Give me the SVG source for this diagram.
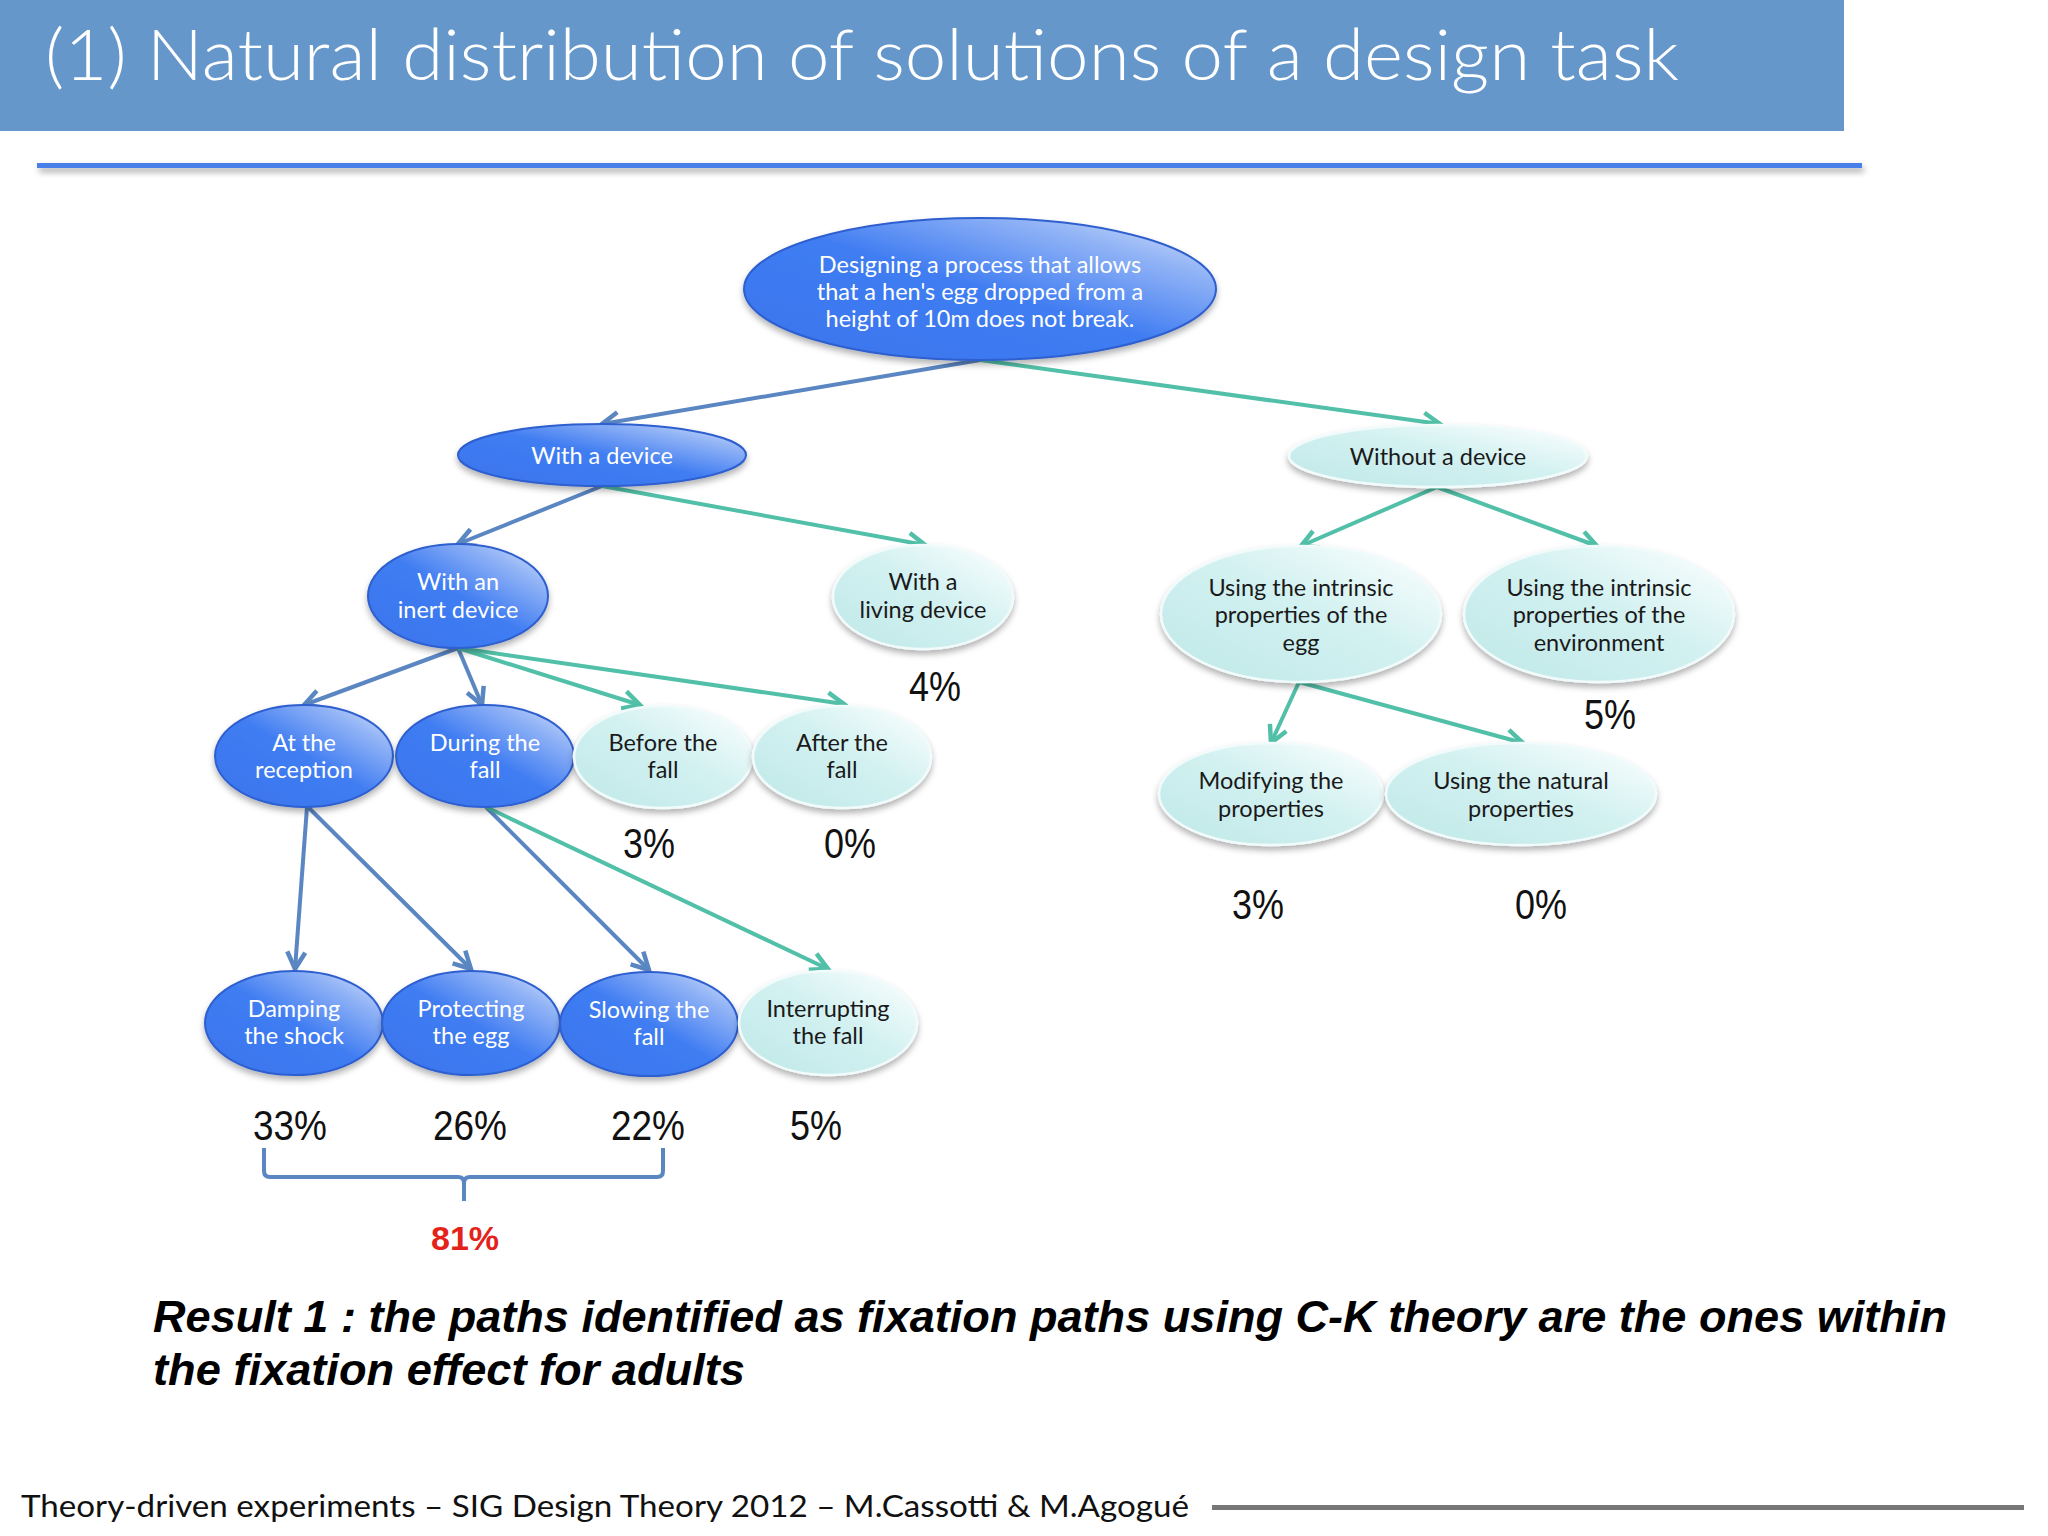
<svg xmlns="http://www.w3.org/2000/svg" width="2048" height="1536" viewBox="0 0 2048 1536">
<defs>
<linearGradient id="gBlue" x1="0" y1="1" x2="1" y2="0">
<stop offset="0" stop-color="#3a75ed"/>
<stop offset="0.5" stop-color="#3f7cf2"/>
<stop offset="0.8" stop-color="#95b6f6"/>
<stop offset="1" stop-color="#dfe8fb"/>
</linearGradient>
<linearGradient id="gTeal" x1="0" y1="1" x2="1" y2="0">
<stop offset="0" stop-color="#bfe8e8"/>
<stop offset="0.55" stop-color="#d3f1f1"/>
<stop offset="1" stop-color="#ffffff"/>
</linearGradient>
<filter id="sh" x="-20%" y="-20%" width="140%" height="150%">
<feDropShadow dx="0" dy="4" stdDeviation="3" flood-color="#000" flood-opacity="0.3"/>
</filter>
<filter id="lsh" x="-5%" y="-100%" width="110%" height="400%">
<feDropShadow dx="2" dy="4" stdDeviation="3" flood-color="#000" flood-opacity="0.35"/>
</filter>
<marker id="aB" markerUnits="userSpaceOnUse" markerWidth="26" markerHeight="26" viewBox="0 0 26 26" refX="22" refY="13" orient="auto">
<path d="M5,4 L22,13 L5,22" fill="none" stroke="#5a86c2" stroke-width="4.5"/>
</marker>
<marker id="aT" markerUnits="userSpaceOnUse" markerWidth="26" markerHeight="26" viewBox="0 0 26 26" refX="22" refY="13" orient="auto">
<path d="M5,4 L22,13 L5,22" fill="none" stroke="#52c0a8" stroke-width="4.5"/>
</marker>
</defs>
<style>
.nb ellipse{fill:url(#gBlue);stroke:#2f5fcf;stroke-width:2;filter:url(#sh)}
.nt ellipse{fill:url(#gTeal);stroke:#f2fbfb;stroke-width:2.5;filter:url(#sh)}
.nb text{fill:#ffffff;font-family:Lato,"Open Sans",sans-serif;font-size:23.5px;text-anchor:middle}
.nt text{fill:#1a1a1a;font-family:Lato,"Open Sans",sans-serif;font-size:23.5px;text-anchor:middle}
.cb{stroke:#5a86c2;stroke-width:4;fill:none;marker-end:url(#aB)}
.ct{stroke:#52c0a8;stroke-width:4;fill:none;marker-end:url(#aT)}
.pct{font-family:"Liberation Sans",Arial,sans-serif;font-size:42px;fill:#111;text-anchor:middle}
</style>
<rect width="2048" height="1536" fill="#ffffff"/>
<!-- header -->
<rect x="0" y="0" width="1844" height="131" fill="#6597cb"/>
<text x="45" y="80" font-family="Lato,'Open Sans',sans-serif" font-weight="300" font-size="70" fill="#ffffff" textLength="1634" lengthAdjust="spacingAndGlyphs">(1) Natural distribution of solutions of a design task</text>
<rect x="37" y="163" width="1825" height="5" fill="#4a7fe8" filter="url(#lsh)"/>

<!-- connectors -->
<g id="connectors">
<line class="cb" x1="980" y1="360" x2="602" y2="424"/>
<line class="ct" x1="980" y1="360" x2="1440" y2="424"/>
<line class="cb" x1="602" y1="486" x2="458" y2="544"/>
<line class="ct" x1="602" y1="486" x2="925" y2="545"/>
<line class="cb" x1="458" y1="648" x2="304" y2="705"/>
<line class="cb" x1="458" y1="648" x2="482" y2="705"/>
<line class="ct" x1="458" y1="648" x2="640" y2="705"/>
<line class="ct" x1="458" y1="648" x2="844" y2="704"/>
<line class="cb" x1="307" y1="807" x2="295" y2="969"/>
<line class="cb" x1="308" y1="807" x2="471" y2="969"/>
<line class="cb" x1="486" y1="807" x2="649" y2="970"/>
<line class="ct" x1="486" y1="807" x2="828" y2="969"/>
<line class="ct" x1="1437" y1="487" x2="1301" y2="546"/>
<line class="ct" x1="1437" y1="487" x2="1597" y2="546"/>
<line class="ct" x1="1299" y1="682" x2="1271" y2="743"/>
<line class="ct" x1="1299" y1="682" x2="1523" y2="743"/>
</g>

<!-- nodes -->
<g id="root" class="nb">
<ellipse cx="980" cy="289" rx="236" ry="71"/>
<text x="980" y="273" font-size="24.5">Designing a process that allows</text>
<text x="980" y="300" font-size="24.5">that a hen's egg dropped from a</text>
<text x="980" y="327" font-size="24.5">height of 10m does not break.</text>
</g>
<g id="with-device" class="nb">
<ellipse cx="602" cy="455" rx="144" ry="31"/>
<text x="602" y="464">With a device</text>
</g>
<g id="without-device" class="nt">
<ellipse cx="1438" cy="456" rx="149" ry="31"/>
<text x="1438" y="465">Without a device</text>
</g>
<g id="inert" class="nb">
<ellipse cx="458" cy="596" rx="90" ry="52"/>
<text x="458" y="590">With an</text>
<text x="458" y="618">inert device</text>
</g>
<g id="living" class="nt">
<ellipse cx="923" cy="597" rx="90" ry="52"/>
<text x="923" y="590">With a</text>
<text x="923" y="618">living device</text>
</g>
<g id="egg" class="nt">
<ellipse cx="1301" cy="614" rx="140" ry="68"/>
<text x="1301" y="596">Using the intrinsic</text>
<text x="1301" y="623">properties of the</text>
<text x="1301" y="651">egg</text>
</g>
<g id="environment" class="nt">
<ellipse cx="1599" cy="614" rx="135" ry="68"/>
<text x="1599" y="596">Using the intrinsic</text>
<text x="1599" y="623">properties of the</text>
<text x="1599" y="651">environment</text>
</g>
<g id="reception" class="nb">
<ellipse cx="304" cy="756" rx="89" ry="51"/>
<text x="304" y="751">At the</text>
<text x="304" y="778">reception</text>
</g>
<g id="during" class="nb">
<ellipse cx="485" cy="756" rx="89" ry="51"/>
<text x="485" y="751">During the</text>
<text x="485" y="778">fall</text>
</g>
<g id="before" class="nt">
<ellipse cx="663" cy="757" rx="89" ry="51"/>
<text x="663" y="751">Before the</text>
<text x="663" y="778">fall</text>
</g>
<g id="after" class="nt">
<ellipse cx="842" cy="757" rx="89" ry="51"/>
<text x="842" y="751">After the</text>
<text x="842" y="778">fall</text>
</g>
<g id="modifying" class="nt">
<ellipse cx="1271" cy="794" rx="112" ry="51"/>
<text x="1271" y="789">Modifying the</text>
<text x="1271" y="817">properties</text>
</g>
<g id="natural" class="nt">
<ellipse cx="1521" cy="794" rx="135" ry="51"/>
<text x="1521" y="789">Using the natural</text>
<text x="1521" y="817">properties</text>
</g>
<g id="damping" class="nb">
<ellipse cx="294" cy="1023" rx="89" ry="52"/>
<text x="294" y="1017">Damping</text>
<text x="294" y="1044">the shock</text>
</g>
<g id="protecting" class="nb">
<ellipse cx="471" cy="1023" rx="89" ry="52"/>
<text x="471" y="1017">Protecting</text>
<text x="471" y="1044">the egg</text>
</g>
<g id="slowing" class="nb">
<ellipse cx="649" cy="1024" rx="89" ry="52"/>
<text x="649" y="1018">Slowing the</text>
<text x="649" y="1045">fall</text>
</g>
<g id="interrupting" class="nt">
<ellipse cx="828" cy="1023" rx="89" ry="52"/>
<text x="828" y="1017">Interrupting</text>
<text x="828" y="1044">the fall</text>
</g>

<!-- percentages -->
<g id="percentages">
<text class="pct" x="935" y="701" textLength="52" lengthAdjust="spacingAndGlyphs">4%</text>
<text class="pct" x="649" y="858" textLength="52" lengthAdjust="spacingAndGlyphs">3%</text>
<text class="pct" x="850" y="858" textLength="52" lengthAdjust="spacingAndGlyphs">0%</text>
<text class="pct" x="1610" y="729" textLength="52" lengthAdjust="spacingAndGlyphs">5%</text>
<text class="pct" x="1258" y="919" textLength="52" lengthAdjust="spacingAndGlyphs">3%</text>
<text class="pct" x="1541" y="919" textLength="52" lengthAdjust="spacingAndGlyphs">0%</text>
<text class="pct" x="290" y="1140" textLength="74" lengthAdjust="spacingAndGlyphs">33%</text>
<text class="pct" x="470" y="1140" textLength="74" lengthAdjust="spacingAndGlyphs">26%</text>
<text class="pct" x="648" y="1140" textLength="74" lengthAdjust="spacingAndGlyphs">22%</text>
<text class="pct" x="816" y="1140" textLength="52" lengthAdjust="spacingAndGlyphs">5%</text>
</g>

<!-- bracket -->
<path d="M264,1148 L264,1171 Q264,1177 270,1177 L458,1177 Q464,1177 464,1183 L464,1201 M464,1183 Q464,1177 470,1177 L657,1177 Q663,1177 663,1171 L663,1148" fill="none" stroke="#5a86c2" stroke-width="4"/>
<text x="465" y="1250" font-family="'Liberation Sans',Arial,sans-serif" font-weight="bold" font-size="34" fill="#e3231b" text-anchor="middle">81%</text>

<!-- result -->
<text x="153" y="1332" font-family="'Liberation Sans',Arial,sans-serif" font-weight="bold" font-style="italic" font-size="44" fill="#000" textLength="1794" lengthAdjust="spacingAndGlyphs">Result 1 : the paths identified as fixation paths using C-K theory are the ones within</text>
<text x="153" y="1385" font-family="'Liberation Sans',Arial,sans-serif" font-weight="bold" font-style="italic" font-size="44" fill="#000" textLength="592" lengthAdjust="spacingAndGlyphs">the fixation effect for adults</text>

<!-- footer -->
<text x="21" y="1517" font-family="Lato,'Open Sans',sans-serif" font-size="30" fill="#111" textLength="1168" lengthAdjust="spacingAndGlyphs">Theory-driven experiments – SIG Design Theory 2012 – M.Cassotti &amp; M.Agogué</text>
<rect x="1212" y="1505" width="812" height="5" fill="#777777"/>
</svg>
